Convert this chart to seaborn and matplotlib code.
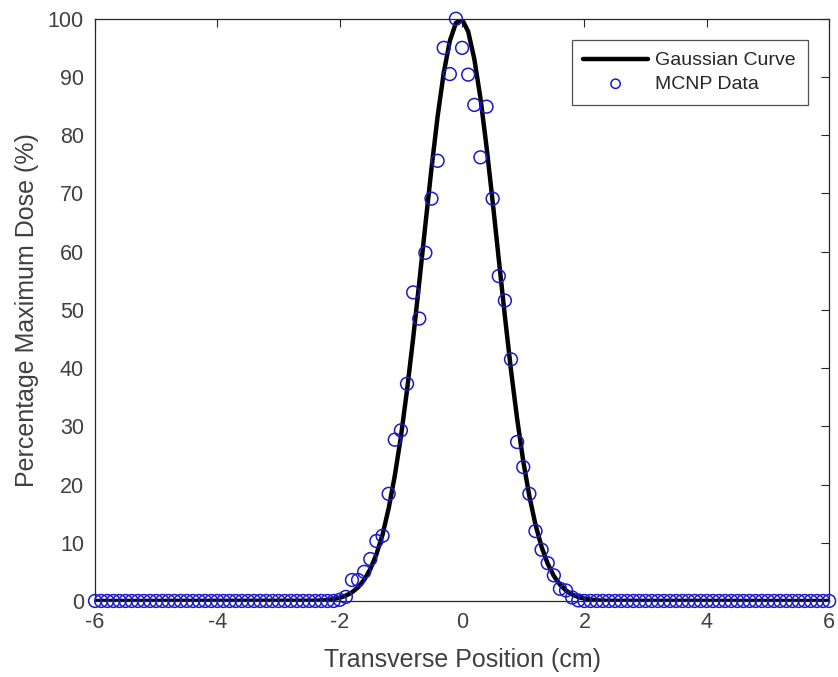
import matplotlib
matplotlib.use("Agg")
import matplotlib.pyplot as plt
import numpy as np
import pandas as pd
import seaborn as sns

# Gaussian curve
x_curve = [-6.0, -2.4, -2.2, -2.0, -1.9, -1.8, -1.7, -1.6, -1.5, -1.4, -1.3, -1.2, -1.1,
           -1.0, -0.9, -0.8, -0.7, -0.6, -0.5, -0.4, -0.3, -0.2, -0.1, 0.0, 0.1,
           0.2, 0.3, 0.4, 0.5, 0.6, 0.7, 0.8, 0.9, 1.0, 1.1, 1.2, 1.3, 1.4, 1.5,
           1.6, 1.7, 1.8, 1.9, 2.0, 2.2, 2.4, 6.0]
y_curve = [0.0, 0.05, 0.15, 0.54, 0.91, 1.48, 2.35, 3.64, 5.48, 8.02, 11.4, 15.9, 21.5,
           28.2, 36.2, 45.1, 54.7, 64.6, 74.3, 83.2, 90.7, 96.2, 99.3, 99.9, 97.8,
           93.1, 86.4, 78.0, 68.6, 58.7, 48.9, 39.6, 31.3, 24.0, 18.0, 13.1, 9.28, 6.40, 4.30,
           2.81, 1.79, 1.11, 0.67, 0.39, 0.1, 0.03, 0.0]

# MCNP data, one point every 0.1 cm from -6 to 6
x_mcnp = np.round(np.linspace(-6, 6, 121), 1)
y_left = [0.0] * 40
y_mid = [0.2, 0.7, 3.6, 3.6, 5.0, 7.2, 10.3, 11.2, 18.4, 27.7,
         29.3, 37.3, 53.0, 48.5, 59.8, 69.1, 75.6, 95.0, 90.5, 100.0,
         95.0, 90.4, 85.2, 76.2, 84.9, 69.1, 55.8, 51.6, 41.5, 27.3,
         23.0, 18.4, 12.0, 8.8, 6.5, 4.4, 2.1, 1.8, 0.6, 0.1, 0.0]
y_right = [0.0] * 40
y_mcnp = y_left + y_mid + y_right

x_ticks = [-6, -4, -2, 0, 2, 4, 6]
y_ticks = [0, 10, 20, 30, 40, 50, 60, 70, 80, 90, 100]

sns.set_theme(style="white")
plt.rcParams['font.family'] = ['Liberation Sans', 'DejaVu Sans']
plt.rcParams['axes.unicode_minus'] = False
plt.rcParams['xtick.direction'] = 'in'
plt.rcParams['ytick.direction'] = 'in'

df_curve = pd.DataFrame({'x': x_curve, 'y': y_curve})
df_mcnp = pd.DataFrame({'x': x_mcnp, 'y': y_mcnp})

fig = plt.figure(figsize=(8.38, 6.77), dpi=100)
ax = fig.add_axes([0.1134, 0.1123, 0.876, 0.860])

sns.lineplot(data=df_curve, x='x', y='y', color='black', linewidth=3.2,
             label='Gaussian Curve', ax=ax, sort=False)
sns.scatterplot(data=df_mcnp, x='x', y='y', marker='o', s=85,
                facecolor='none', edgecolor=(0.1, 0.1, 0.78), linewidth=1.1,
                label='MCNP Data', ax=ax, zorder=3, clip_on=False)

ax.set_xlim(-6, 6)
ax.set_ylim(0, 100)
ax.set_xticks(x_ticks)
ax.set_yticks(y_ticks)
ax.tick_params(axis='both', which='both', top=True, right=True, length=6,
               width=0.8, color='#262626', labelsize=15.5, labelcolor='#404040', pad=8)
for s in ax.spines.values():
    s.set_color('#262626')
    s.set_linewidth(0.9)

ax.set_xlabel('Transverse Position (cm)', fontsize=18, color='#404040', labelpad=11)
ax.set_ylabel('Percentage Maximum Dose (%)', fontsize=18, color='#404040', labelpad=6)

leg = ax.legend(loc='upper right', fontsize=14, frameon=True, fancybox=False,
                edgecolor='#262626', handlelength=3.3, handletextpad=0.4,
                labelspacing=0.3, borderpad=0.6, borderaxespad=1.1)
leg.get_frame().set_linewidth(0.9)
leg.legend_handles[1].set_sizes([45])
for t in leg.get_texts():
    t.set_color('#262626')

fig.savefig('out.png', dpi=100)
